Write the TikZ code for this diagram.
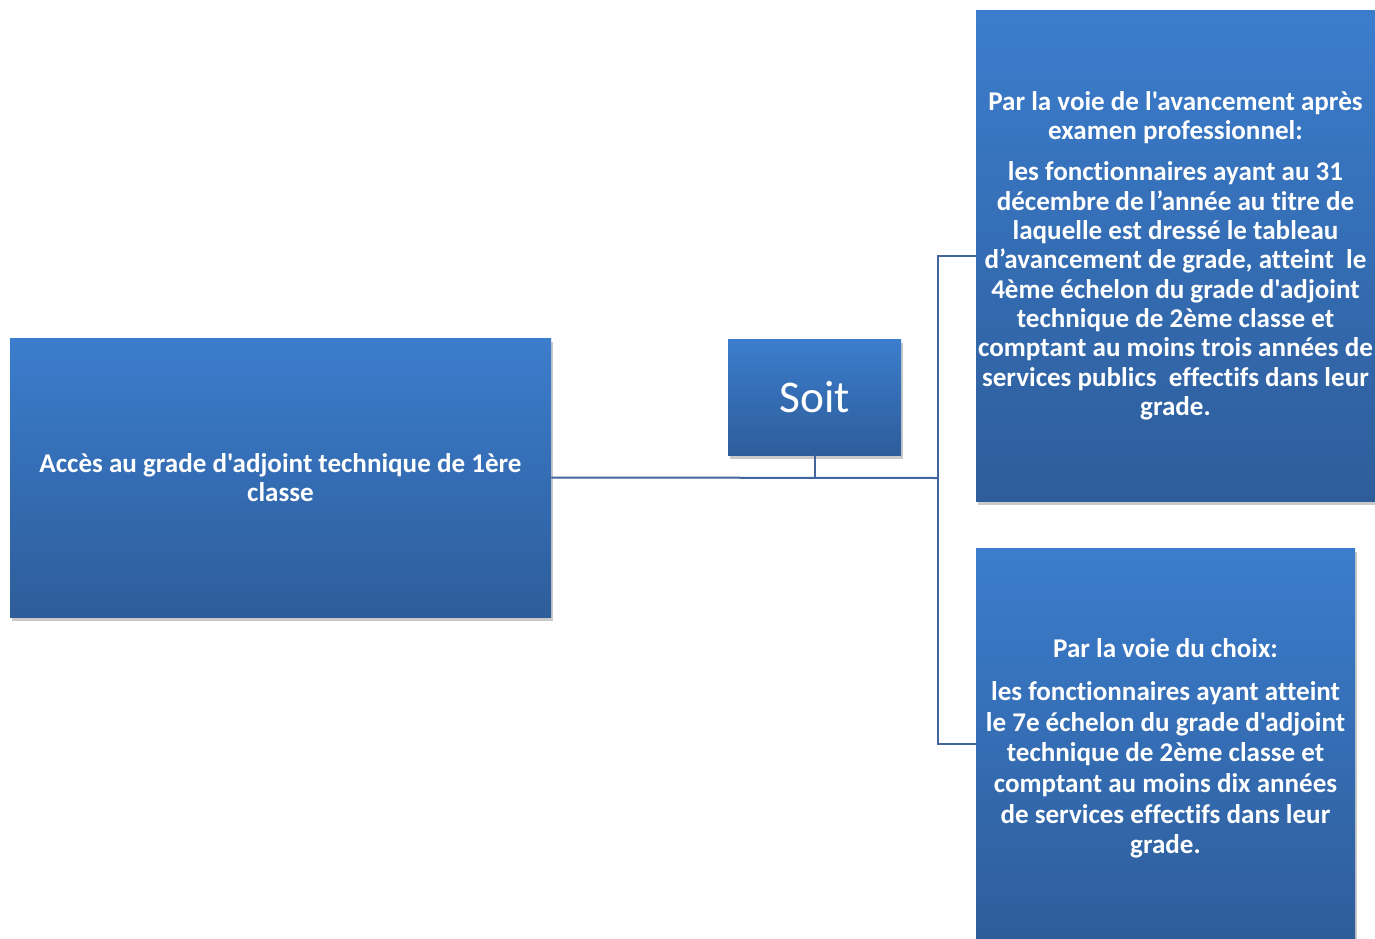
\documentclass[tikz,border=0pt]{standalone}
\usepackage{fontspec}
\setmainfont{Carlito}[Ligatures={TeXOff,NoCommon}]
\usetikzlibrary{shadows}
\definecolor{boxtop}{HTML}{3B7DCD}
\definecolor{boxbot}{HTML}{2E5D9A}
\definecolor{linec}{HTML}{41659C}
\tikzset{
  box/.style={shade, top color=boxtop, bottom color=boxbot, shading angle=0,
    text=white, align=center, inner sep=0pt,
    font=\bfseries\fontsize{20.3pt}{22pt}\selectfont,
    drop shadow={shadow xshift=1.5pt, shadow yshift=-3pt, opacity=0.35, fill=black!60}},
  conn/.style={draw=linec, line width=1.5pt}
}
\begin{document}
\begin{tikzpicture}[x=0.75pt, y=-0.75pt]
\useasboundingbox (0,0) rectangle (1375,939);
\node[box, minimum width=405.75pt, minimum height=209.25pt] (left) at (280.5,477.5)
  {Accès au grade d'adjoint technique de 1ère\\classe};
\node[box, minimum width=129.75pt, minimum height=87pt,
  font=\fontsize{34pt}{40pt}\selectfont] (soit) at (814.5,397) {Soit};
\node[box, minimum width=299.25pt, minimum height=368.25pt] (top) at (1175.5,255.5)
  {Par la voie de l'avancement après\\examen professionnel:\\[9pt]
   les fonctionnaires ayant au 31\\décembre de l’année au titre de\\laquelle est dressé le tableau\\
   d’avancement de grade, atteint\ \ le\\4ème échelon du grade d'adjoint\\technique de 2ème classe et\\
   comptant au moins trois années de\\services publics\ \ effectifs dans leur\\grade.};
\node[box, minimum width=284.25pt, minimum height=293.25pt,
  font=\bfseries\fontsize{20.3pt}{23pt}\selectfont] (bot) at (1165.5,743.5)
  {\rule{0pt}{22pt}Par la voie du choix:\\[9pt]
   les fonctionnaires ayant atteint\\le 7e échelon du grade d'adjoint\\technique de 2ème classe et\\
   comptant au moins dix années\\de services effectifs dans leur\\grade.};
\coordinate (bus) at (938,478);
\draw[conn] (left.east) -- (bus);
\draw[conn] (soit.south) -- (soit.south |- bus);
\draw[conn] (top.west) -| (bus) |- (bot.west);
\end{tikzpicture}
\end{document}
